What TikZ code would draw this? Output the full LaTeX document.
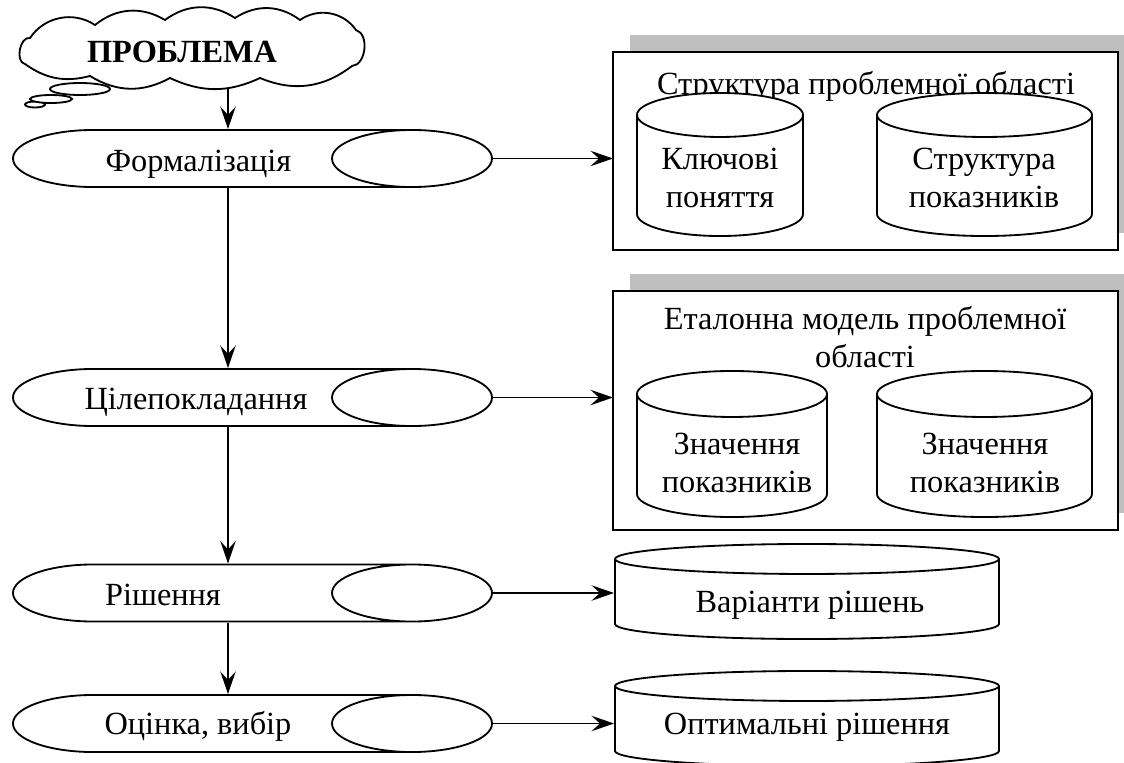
\documentclass[tikz,border=0pt]{standalone}
\usepackage{fontspec}
\setmainfont{Liberation Serif}
\usetikzlibrary{shapes.geometric,arrows.meta,shadows,calc}

\begin{document}
\begin{tikzpicture}[line width=1.3pt]

\tikzstyle{every node} = [font=\fontsize{23}{27}\selectfont, inner sep=0pt, outer sep=0pt]
\tikzstyle{area} = [rectangle, draw, fill=white, minimum width=12.625cm, drop shadow={shadow xshift=0.425cm, shadow yshift=0.425cm, fill=black!25, opacity=1}]
\tikzstyle{arr} = [-{Stealth[length=16pt,width=11pt,inset=6pt]}, line width=1.4pt]
\tikzset{
  proc/.style={minimum width=12.025cm, minimum height=1.475cm, path picture={
    \draw[fill=white] let \p1=(path picture bounding box.south west),
      \p2=(path picture bounding box.north east), \n1={(\y2-\y1)/2-0.7pt} in
      (\x1+2cm+0.7pt,\y1+0.7pt) arc[start angle=270, end angle=90, x radius=2cm, y radius=\n1]
      -- (\x2-2cm-0.7pt,\y2-0.7pt) arc[start angle=90, end angle=-90, x radius=2cm, y radius=\n1] -- cycle
      (\x2-2cm-0.7pt,\y2-0.7pt) arc[start angle=90, end angle=270, x radius=2cm, y radius=\n1];
  }},
  store/.style={path picture={
    \draw[fill=white] let \p1=(path picture bounding box.south west),
      \p2=(path picture bounding box.north east), \n1={(\x2-\x1)/2-0.7pt} in
      (\x1+0.7pt,\y2-0.7pt-#1) -- (\x1+0.7pt,\y1+0.7pt+#1)
      arc[start angle=180, end angle=360, x radius=\n1, y radius=#1]
      -- (\x2-0.7pt,\y2-0.7pt-#1)
      arc[start angle=0, end angle=180, x radius=\n1, y radius=#1] -- cycle
      (\x1+0.7pt,\y2-0.7pt-#1) arc[start angle=180, end angle=360, x radius=\n1, y radius=#1];
  }}
}

\useasboundingbox (0,0) rectangle (28.1,-19.075);

% cloud
\node[ellipse, draw, fill=white, minimum width=0.5cm, minimum height=0.15cm] (b3) at (0.875,-2.6125) {};
\node[ellipse, draw, fill=white, minimum width=1.05cm, minimum height=0.2cm] (b2) at (1.275,-2.475) {};
\node[ellipse, draw, fill=white, minimum width=1.5cm, minimum height=0.3cm] (b1) at (2.0,-2.225) {};
\draw[fill=white] (8.8,-1.65) to[bend right=80] (8.9,-0.75) to[bend right=45] (7.5,-0.5)
  to[bend right=35] (5.875,-0.45) to[bend right=35] (4.125,-0.5) to[bend right=35] (2.375,-0.625)
  to[bend right=45] (0.75,-0.95) to[bend right=90] (0.625,-1.6) to[bend right=25] (2.25,-1.9)
  to[bend right=30] (4.25,-1.95) to[bend right=25] (6.5,-1.95) to[bend right=30] (8.8,-1.65) -- cycle;
\node (pt) at (4.55,-1.3) {\textbf{ПРОБЛЕМА}};
\coordinate (pb) at (5.7,-2.2);

% steps
\node[proc] (f1) at (6.3125,-3.9625) {};
\node[proc] (f2) at (6.3125,-9.9375) {};
\node[proc] (f3) at (6.3125,-14.825) {};
\node[proc] (f4) at (6.3125,-18.0875) {};
\node[anchor=base] (t1) at (4.9625,-4.275) {Формалізація};
\node[anchor=base] (t2) at (4.9,-10.225) {Цілепокладання};
\node[anchor=base] (t3) at (4.075,-15.125) {Рішення};
\node[anchor=base] (t4) at (4.95,-18.35) {Оцінка, вибір};

% right side
\node[area, minimum height=4.95cm] (s1) at (21.6375,-3.775) {};
\node[anchor=base] (h1) at (21.65,-2.35) {Структура проблемної області};
\node[store=0.55cm, minimum width=4.2cm, minimum height=3.625cm] (c1) at (18.0,-4.1125) {};
\node[store=0.55cm, minimum width=5.425cm, minimum height=3.625cm] (c2) at (24.6125,-4.1125) {};
\node[align=center] (k1) at (18.0,-4.4375) {Ключові\\поняття};
\node[align=center] (k2) at (24.6,-4.4375) {Структура\\показників};

\node[area, minimum height=5.975cm] (s2) at (21.6375,-10.2625) {};
\node[align=center] (h2) at (21.625,-8.4375) {Еталонна модель проблемної\\області};
\node[store=0.575cm, minimum width=4.8cm, minimum height=3.7cm] (c3) at (18.3,-11.1) {};
\node[store=0.575cm, minimum width=5.425cm, minimum height=3.7cm] (c4) at (24.6125,-11.1) {};
\node[align=center] (k3) at (18.425,-11.575) {Значення\\показників};
\node[align=center] (k4) at (24.625,-11.575) {Значення\\показників};

\node[store=0.375cm, minimum width=9.65cm, minimum height=2.425cm] (d1) at (20.175,-14.7875) {};
\node[store=0.375cm, minimum width=9.65cm, minimum height=2.425cm] (d2) at (20.175,-17.9625) {};
\node[anchor=base] (k5) at (20.25,-15.3) {Варіанти рішень};
\node[anchor=base] (k6) at (20.175,-18.35) {Оптимальні рішення};

\coordinate (ax) at (5.7,0);

\draw[arr] (pb) -- (f1.north -| ax);
\draw[arr] (f1.south -| ax) -- (f2.north -| ax);
\draw[arr] (f2.south -| ax) -- (f3.north -| ax);
\draw[arr] (f3.south -| ax) -- (f4.north -| ax);

\draw[arr] (f1.east) -- (f1.east -| s1.west);
\draw[arr] (f2.east) -- (f2.east -| s2.west);
\draw[arr] (f3.east) -- (f3.east -| d1.west);
\draw[arr] (f4.east) -- (f4.east -| d2.west);
\end{tikzpicture}
\end{document}
